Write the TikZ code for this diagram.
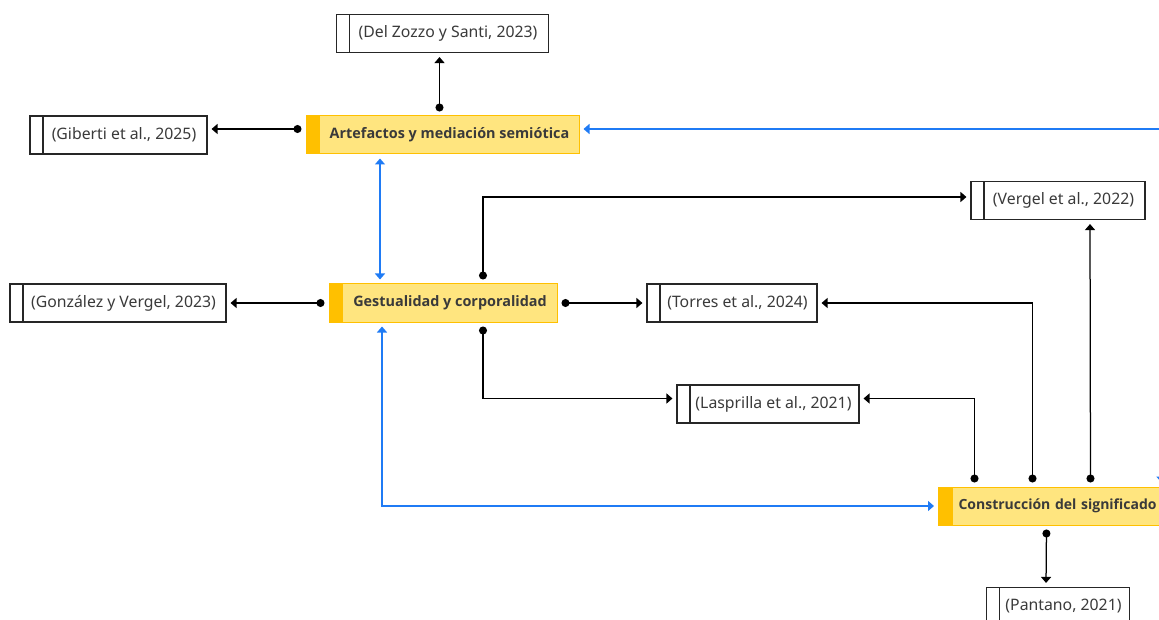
\documentclass[tikz,border=0pt]{standalone}
\usepackage{fontspec}
\setmainfont{Noto Sans}
\newfontfamily\topicfont{Open Sans}
\usetikzlibrary{arrows.meta}
\definecolor{txt}{HTML}{3A3A3A}
\definecolor{boxfill}{HTML}{FFE57F}
\definecolor{boxline}{HTML}{FFC000}
\definecolor{bluec}{HTML}{1F7BF5}
\definecolor{cline}{HTML}{262626}
\tikzset{
  cite/.style={draw=cline, line width=1.1pt, fill=white, minimum height=38pt, inner sep=0pt,
    text=txt, font=\fontsize{15.8}{18}\selectfont,
    path picture={\draw[cline, line width=1.1pt] ([xshift=13pt]path picture bounding box.north west) -- ([xshift=13pt]path picture bounding box.south west);}},
  topic/.style={draw=boxline, line width=1pt, fill=boxfill, minimum height=38pt, inner sep=0pt,
    text=txt, font=\topicfont\fontsize{14.4}{16}\selectfont\bfseries,
    path picture={\fill[boxline] (path picture bounding box.north west) rectangle ([xshift=14pt]path picture bounding box.south west);}},
  conn/.style={draw=black, line width=1.25pt, {Circle[length=8pt]}-{Triangle[length=6pt,width=10pt]}, shorten <=4pt, shorten >=4pt},
  bconn/.style={draw=bluec, line width=1.25pt, {Triangle[length=6pt,width=10pt]}-{Triangle[length=6pt,width=10pt]}, shorten <=4pt, shorten >=4pt},
  bin/.style={draw=bluec, line width=1.25pt, -{Triangle[length=6pt,width=10pt]}, shorten >=4pt},
}
\begin{document}
\begin{tikzpicture}[x=1pt,y=-1pt]
\clip (0,0) rectangle (1159,620);
\fill[white] (0,0) rectangle (1159,620);
% topic nodes
\node[topic, minimum width=273pt] (art) at (442.5,135) {\hspace*{14pt}Artefactos y mediación semiótica};
\node[topic, minimum width=228pt] (gest) at (443,303) {\hspace*{14pt}Gestualidad y corporalidad};
\node[topic, minimum width=240pt, anchor=west, text width=220pt, align=left, font=\topicfont\fontsize{14}{16}\selectfont\bfseries] (cons) at (938,506) {\hspace*{10pt}Construcción del significado};
% citation nodes
\node[cite, minimum width=212pt] (del) at (442.5,33.5) {\hspace*{11pt}(Del Zozzo y Santi, 2023)};
\node[cite, minimum width=177pt] (gib) at (118.5,135) {\hspace*{11pt}(Giberti et al., 2025)};
\node[cite, minimum width=216pt] (gon) at (118,303) {\hspace*{11pt}(González y Vergel, 2023)};
\node[cite, minimum width=170pt] (tor) at (732,303) {\hspace*{11pt}(Torres et al., 2024)};
\node[cite, minimum width=174pt] (ver) at (1058,200.5) {\hspace*{11pt}(Vergel et al., 2022)};
\node[cite, minimum width=182pt] (las) at (768,404) {\hspace*{11pt}(Lasprilla et al., 2021)};
\node[cite, minimum width=143pt] (pan) at (1058,606.5) {\hspace*{11pt}(Pantano, 2021)};
\coordinate (rin) at (1175,129);
\coordinate (bin1) at (1161,430);
% black connectors
\draw[conn] ([xshift=-3pt]art.north) -- ([xshift=-3pt]del.south);
\draw[conn] ([yshift=6pt]art.west) -- ([yshift=6pt]gib.east);
\draw[conn] (gest.west) -- (gon.east);
\draw[conn] (gest.east) -- (tor.west);
\draw[conn] ([xshift=40pt]gest.north) |- ([yshift=3.5pt]ver.west);
\draw[conn] ([xshift=40pt]gest.south) |- ([yshift=5.5pt]las.west);
\draw[conn] ([xshift=-84pt]cons.north) |- ([yshift=5.5pt]las.east);
\draw[conn] ([xshift=-26pt]cons.north) |- (tor.east);
\draw[conn] ([xshift=32pt]cons.north) -- ([xshift=32pt]ver.south);
\draw[conn] ([xshift=-12pt]cons.south) -- ([xshift=-12pt]pan.north);
% blue connectors
\draw[bin] (rin) -- ([yshift=6pt]art.east);
\draw[bconn] ([xshift=-62.5pt]art.south) -- ([xshift=-63pt]gest.north);
\draw[bconn] ([xshift=-61pt]gest.south) |- (cons.west);
\draw[bin] (bin1) -- ([xshift=103pt]cons.north);
\end{tikzpicture}
\end{document}
